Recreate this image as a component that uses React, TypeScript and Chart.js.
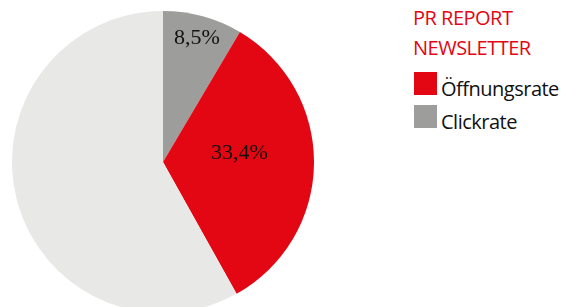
import React, { useEffect, useRef } from "react";
import { Chart, registerables } from "chart.js";

Chart.register(...registerables);

const categories = ["Clickrate", "Öffnungsrate", "Rest"];
const values = [8.5, 33.4, 58.1];
const colors = ["#9d9d9c", "#e30613", "#e8e8e7"];
const showLabel = [true, true, false];
const labelRadius = [0.85, 0.51, 0];
const labelAngleShift = [0, -7.4, 0];
const titleLines = ["PR REPORT", "NEWSLETTER"];
const legendItems = ["Öffnungsrate", "Clickrate"];
const legendColors = ["#e30613", "#9d9d9c"];

const fmt = (v: number) => v.toFixed(1).replace(".", ",") + "%";

const labelPlugin = {
  id: "sliceLabels",
  afterDatasetsDraw(chart: any) {
    const ctx = chart.ctx;
    const meta = chart.getDatasetMeta(0);
    ctx.save();
    ctx.font = '22px "Liberation Serif", "Times New Roman", serif';
    ctx.fillStyle = "#111";
    ctx.textAlign = "center";
    ctx.textBaseline = "middle";
    meta.data.forEach((arc: any, i: number) => {
      if (!showLabel[i]) return;
      const { x, y, startAngle, endAngle, outerRadius } = arc.getProps(
        ["x", "y", "startAngle", "endAngle", "outerRadius"],
        true
      );
      const mid = (startAngle + endAngle) / 2 + (labelAngleShift[i] * Math.PI) / 180;
      const r = outerRadius * labelRadius[i];
      ctx.fillText(fmt(values[i]), x + Math.cos(mid) * r, y + Math.sin(mid) * r);
    });
    ctx.restore();
  },
};

export default function App() {
  const ref = useRef<HTMLCanvasElement>(null);
  useEffect(() => {
    if (!ref.current) return;
    const chart = new Chart(ref.current, {
      type: "pie",
      data: {
        labels: categories,
        datasets: [
          {
            data: values,
            backgroundColor: colors,
            borderWidth: 0,
          },
        ],
      },
      options: {
        animation: false,
        responsive: false,
        maintainAspectRatio: false,
        plugins: {
          legend: { display: false },
          tooltip: { enabled: false },
        },
      },
      plugins: [labelPlugin],
    });
    return () => chart.destroy();
  }, []);

  return (
    <div
      style={{
        position: "fixed",
        left: 0,
        top: 0,
        width: 573,
        height: 307,
        overflow: "hidden",
        background: "#fff",
      }}
    >
      <canvas
        ref={ref}
        width={302}
        height={302}
        style={{ position: "absolute", left: 12, top: 11, width: 302, height: 302 }}
      />
      <div
        style={{
          position: "absolute",
          left: 413,
          top: 3,
          fontFamily: '"Open Sans", sans-serif',
          fontSize: 20,
          lineHeight: "30px",
          color: "#e30613",
          letterSpacing: -0.5,
        }}
      >
        {titleLines.map((t) => (
          <div key={t}>{t}</div>
        ))}
      </div>
      {legendItems.map((t, i) => (
        <div
          key={t}
          style={{
            position: "absolute",
            left: 414,
            top: 72 + i * 33,
            height: 23,
            display: "flex",
            alignItems: "flex-end",
            fontFamily: '"Open Sans", sans-serif',
            fontSize: 20,
            color: "#111",
            letterSpacing: -0.5,
          }}
        >
          <span
            style={{
              display: "inline-block",
              width: 23,
              height: 23,
              background: legendColors[i],
              marginRight: 4,
            }}
          />
          <span style={{ lineHeight: "20px", position: "relative", top: 4 }}>{t}</span>
        </div>
      ))}
    </div>
  );
}
